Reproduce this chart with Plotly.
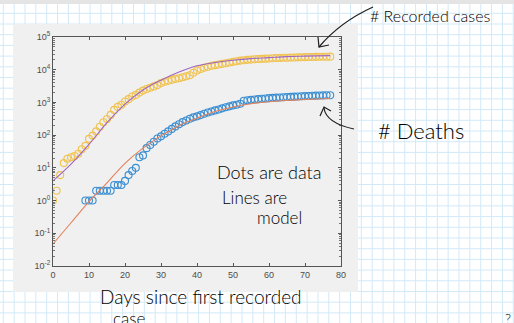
import plotly.graph_objects as go

W, H = 514, 323
L, R, T, B = 53, 341, 37, 266

def fx(px):
    return (px - L) / (R - L)

def fy(py):
    return (B - py) / (B - T)

# ---------------- data ----------------
case_days = list(range(0, 78))
cases = [1, 2, 6, 14, 19, 21, 23, 27, 37, 47,
         77, 97, 130, 180, 248, 312, 415, 590, 730, 850,
         1070, 1260, 1510, 1700, 2000, 2300, 2570, 2820, 3090, 3390,
         3900, 4270, 4570, 4900, 5250, 5500, 5900, 6300, 6760, 8100,
         9500, 10500, 11500, 12300, 13200, 13800, 14500, 15100, 15800, 16600,
         17400, 18200, 19000, 19500, 20000, 20400, 20800, 21200, 21500, 21800,
         22100, 22400, 22700, 22900, 23100, 23300, 23500, 23700, 23900, 24100,
         24300, 24400, 24600, 24700, 24800, 24900, 25000, 25100]

death_days = list(range(9, 78))
deaths = [1, 1, 1, 2, 2, 2, 2, 2, 3, 3,
          3, 4, 6, 8, 10, 21, 24, 40, 50, 63,
          79, 92, 110, 130, 155, 185, 215, 250, 280, 316,
          350, 375, 410, 450, 490, 530, 570, 610, 660, 710,
          760, 810, 850, 910, 1120, 1170, 1200, 1230, 1260, 1290,
          1320, 1350, 1380, 1400, 1420, 1440, 1460, 1480, 1500, 1520,
          1540, 1560, 1580, 1600, 1610, 1620, 1640, 1650, 1660]

model_days = [0, 5, 10, 15, 20, 25, 30, 35, 40, 45, 50, 55, 60, 65, 70, 77]
model_cases = [4.0, 13, 52, 240, 890, 2400, 4800, 8500, 13200, 16600,
               19500, 21900, 23400, 25100, 26000, 27000]
model_deaths = [0.047, 0.21, 0.93, 3.5, 13.8, 40, 95, 195, 330, 525,
                725, 910, 1050, 1150, 1230, 1320]

x_ticks = [0, 10, 20, 30, 40, 50, 60, 70, 80]
y_ticks = [1e-2, 1e-1, 1e0, 1e1, 1e2, 1e3, 1e4, 1e5]
y_tick_text = ["10<sup>-2</sup>", "10<sup>-1</sup>", "10<sup>0</sup>", "10<sup>1</sup>",
               "10<sup>2</sup>", "10<sup>3</sup>", "10<sup>4</sup>", "10<sup>5</sup>"]

# ---------------- figure ----------------
fig = go.Figure()

fig.add_trace(go.Scatter(x=death_days, y=deaths, mode="markers",
                         marker=dict(symbol="circle-open", size=7, color="#3a8ed2",
                                     line=dict(width=1.1, color="#3a8ed2")),
                         showlegend=False, hoverinfo="skip"))
fig.add_trace(go.Scatter(x=model_days, y=model_deaths, mode="lines",
                         line=dict(color="#e4825a", width=1.1, shape="spline"),
                         showlegend=False, hoverinfo="skip"))
fig.add_trace(go.Scatter(x=case_days, y=cases, mode="markers",
                         marker=dict(symbol="circle-open", size=7, color="#f0c24e",
                                     line=dict(width=1.1, color="#f0c24e")),
                         showlegend=False, hoverinfo="skip"))
fig.add_trace(go.Scatter(x=model_days, y=model_cases, mode="lines",
                         line=dict(color="#a066c0", width=1.1, shape="spline"),
                         showlegend=False, hoverinfo="skip"))

shapes = []
grid_col = "#d2e9f8"
# graph-paper grid
gx = 3.3
while gx < W:
    shapes.append(dict(type="line", xref="paper", yref="paper", layer="below",
                       x0=fx(gx), x1=fx(gx), y0=fy(0), y1=fy(H),
                       line=dict(color=grid_col, width=1)))
    gx += 10.85
gy = 13.3
while gy < H:
    shapes.append(dict(type="line", xref="paper", yref="paper", layer="below",
                       x0=fx(0), x1=fx(W), y0=fy(gy), y1=fy(gy),
                       line=dict(color=grid_col, width=1)))
    gy += 10.7
# top page edge strip
shapes.append(dict(type="rect", xref="paper", yref="paper", layer="below",
                   x0=fx(0), x1=fx(W), y0=fy(4), y1=fy(0),
                   fillcolor="#e4e4e4", line=dict(width=0)))
# matlab figure window background
shapes.append(dict(type="rect", xref="paper", yref="paper", layer="below",
                   x0=fx(13), x1=fx(358), y0=fy(292), y1=fy(24),
                   fillcolor="#f0f0f0", line=dict(width=0)))

# hand drawn arrows
ink = dict(color="#1e1e1e", width=1.2)
shapes.append(dict(type="path", xref="paper", yref="paper",
                   path=f"M {fx(373)} {fy(7)} Q {fx(340)} {fy(22)} {fx(319)} {fy(47)}",
                   line=ink))
shapes.append(dict(type="path", xref="paper", yref="paper",
                   path=f"M {fx(318)} {fy(37)} L {fx(319)} {fy(47)} L {fx(329)} {fy(45)}",
                   line=ink))
shapes.append(dict(type="path", xref="paper", yref="paper",
                   path=f"M {fx(354)} {fy(129)} Q {fx(326)} {fy(123)} {fx(324)} {fy(108)}",
                   line=ink))
shapes.append(dict(type="path", xref="paper", yref="paper",
                   path=f"M {fx(320)} {fy(116)} L {fx(324)} {fy(107)} L {fx(331)} {fy(111)}",
                   line=ink))

hand = dict(family="Lato", color="#000000", weight=300)
annotations = []

def note(text, px, py, size):
    annotations.append(dict(text=text, xref="paper", yref="paper", x=fx(px), y=fy(py),
                            xanchor="left", yanchor="middle", showarrow=False,
                            font=dict(size=size, **hand)))

note("# Recorded cases", 368, 16, 16)
note("# Deaths", 376, 130, 22)
note("Dots are data", 215, 172, 18)
note("Lines are", 220, 197, 17)
note("model", 255, 217, 17)
note("Days since first recorded", 98, 296, 19)
note("case", 111, 318, 17)
note("?", 503, 318, 14)

fig.update_layout(
    width=W, height=H,
    margin=dict(l=L, r=W - R, t=T, b=H - B, pad=0),
    paper_bgcolor="white",
    plot_bgcolor="white",
    shapes=shapes,
    annotations=annotations,
    font=dict(family="Liberation Sans", size=9, color="#4d4d4d"),
    xaxis=dict(range=[0, 80], tickvals=x_ticks, ticks="inside", ticklen=3,
               tickcolor="#555", showline=True, linecolor="#555", linewidth=1,
               mirror="allticks", showgrid=False, zeroline=False,
               tickfont=dict(size=9, color="#4d4d4d")),
    yaxis=dict(type="log", range=[-2, 5], tickvals=y_ticks, ticktext=y_tick_text,
               ticks="inside", ticklen=3, tickcolor="#555", showline=True,
               linecolor="#555", linewidth=1, mirror="allticks", showgrid=False,
               zeroline=False, tickfont=dict(size=9, color="#4d4d4d"),
               minor=dict(ticks="inside", ticklen=2, tickcolor="#777", dtick="D1")),
)

fig.write_html("out.html", config={"displayModeBar": False},
               post_script="document.body.style.margin='0';document.body.style.padding='0';document.body.style.overflow='hidden';")
